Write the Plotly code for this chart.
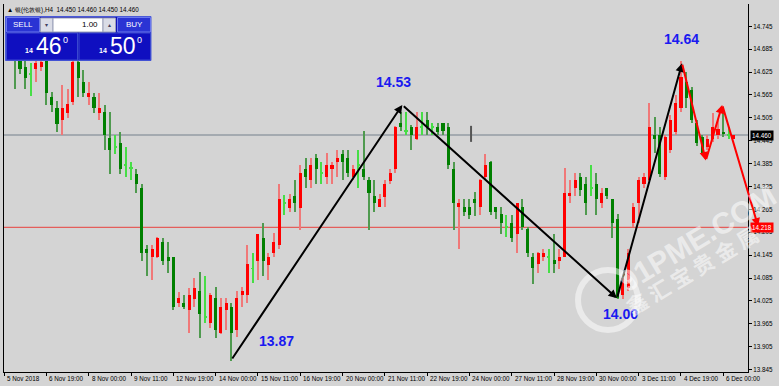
import plotly.graph_objects as go

# ---------------- data ----------------
bar_index = list(range(1, 139))
opens = [14.710, 14.700, 14.675, 14.639, 14.621, 14.632, 14.639, 14.670, 14.560,
         14.531, 14.499, 14.519, 14.547, 14.652, 14.600, 14.559, 14.560, 14.519, 14.521,
         14.451, 14.429, 14.440, 14.381, 14.373, 14.359, 14.320, 14.160, 14.139, 14.139,
         14.180, 14.139, 14.139, 14.019, 14.020, 14.001, 14.029, 14.051, 13.982, 13.966,
         14.032, 13.940, 14.001, 14.010, 13.950, 14.040, 14.040, 14.110, 14.130, 14.189,
         14.119, 14.150, 14.172, 14.281, 14.269, 14.300, 14.269, 14.370, 14.342, 14.401,
         14.361, 14.349, 14.370, 14.390, 14.410, 14.401, 14.349, 14.381, 14.370, 14.342,
         14.300, 14.272, 14.298, 14.340, 14.370, 14.491, 14.471, 14.480, 14.449, 14.480,
         14.499, 14.480, 14.480, 14.491, 14.480, 14.370, 14.270, 14.270, 14.270, 14.291,
         14.270, 14.349, 14.390, 14.270, 14.253, 14.220, 14.230, 14.200, 14.270, 14.213,
         14.139, 14.122, 14.139, 14.141, 14.132, 14.130, 14.141, 14.300, 14.320, 14.351,
         14.331, 14.320, 14.331, 14.281, 14.320, 14.291, 14.241, 14.040, 14.058, 14.230,
         14.281, 14.331, 14.342, 14.460, 14.460, 14.349, 14.421, 14.469, 14.530, 14.600,
         14.578, 14.491, 14.456, 14.429, 14.449, 14.460, 14.469, 14.460, 14.450]
highs = [14.720, 14.720, 14.700, 14.660, 14.650, 14.660, 14.660, 14.680, 14.574,
         14.549, 14.591, 14.580, 14.660, 14.660, 14.630, 14.600, 14.569, 14.569, 14.540,
         14.521, 14.460, 14.469, 14.429, 14.390, 14.370, 14.332, 14.172, 14.172, 14.192,
         14.189, 14.180, 14.139, 14.049, 14.040, 14.058, 14.084, 14.102, 14.091, 14.045,
         14.061, 14.032, 14.032, 14.020, 14.052, 14.061, 14.172, 14.150, 14.200, 14.230,
         14.150, 14.202, 14.331, 14.303, 14.305, 14.342, 14.381, 14.401, 14.401, 14.410,
         14.390, 14.412, 14.390, 14.422, 14.422, 14.422, 14.381, 14.422, 14.471, 14.350,
         14.342, 14.305, 14.342, 14.370, 14.484, 14.521, 14.521, 14.485, 14.521, 14.521,
         14.521, 14.491, 14.491, 14.491, 14.491, 14.390, 14.291, 14.291, 14.291, 14.311,
         14.345, 14.410, 14.392, 14.272, 14.270, 14.250, 14.250, 14.283, 14.291, 14.218,
         14.150, 14.152, 14.160, 14.160, 14.200, 14.160, 14.373, 14.342, 14.361, 14.361,
         14.351, 14.381, 14.361, 14.320, 14.322, 14.293, 14.253, 14.093, 14.160, 14.281,
         14.351, 14.361, 14.543, 14.508, 14.480, 14.460, 14.512, 14.565, 14.655, 14.626,
         14.587, 14.499, 14.460, 14.460, 14.519, 14.499, 14.534, 14.480, 14.460]
lows = [14.670, 14.580, 14.619, 14.580, 14.561, 14.600, 14.629, 14.540, 14.521,
        14.469, 14.460, 14.504, 14.539, 14.559, 14.559, 14.539, 14.519, 14.499, 14.421,
        14.359, 14.410, 14.358, 14.349, 14.342, 14.309, 14.130, 14.090, 14.081, 14.137,
        14.119, 14.099, 14.001, 14.010, 14.003, 13.940, 14.010, 13.929, 13.968, 13.953,
        13.929, 13.938, 13.950, 13.868, 13.931, 14.010, 14.019, 14.071, 14.080, 14.090,
        14.081, 14.139, 14.160, 14.250, 14.259, 14.259, 14.211, 14.320, 14.320, 14.331,
        14.331, 14.331, 14.331, 14.349, 14.342, 14.349, 14.342, 14.320, 14.342, 14.211,
        14.259, 14.270, 14.270, 14.331, 14.361, 14.471, 14.460, 14.421, 14.448, 14.460,
        14.460, 14.460, 14.460, 14.460, 14.370, 14.211, 14.160, 14.248, 14.241, 14.248,
        14.250, 14.342, 14.250, 14.241, 14.200, 14.193, 14.180, 14.150, 14.211, 14.139,
        14.069, 14.097, 14.130, 14.099, 14.099, 14.108, 14.139, 14.281, 14.300, 14.300,
        14.250, 14.300, 14.250, 14.269, 14.291, 14.189, 14.030, 14.029, 14.052, 14.218,
        14.228, 14.320, 14.340, 14.412, 14.351, 14.342, 14.412, 14.460, 14.521, 14.530,
        14.491, 14.431, 14.408, 14.421, 14.442, 14.449, 14.456, 14.449, 14.450]
closes = [14.690, 14.670, 14.632, 14.610, 14.621, 14.650, 14.651, 14.569, 14.539,
          14.489, 14.532, 14.541, 14.652, 14.609, 14.569, 14.571, 14.530, 14.530, 14.460,
          14.421, 14.429, 14.370, 14.381, 14.373, 14.331, 14.150, 14.150, 14.160, 14.189,
          14.130, 14.130, 14.010, 14.032, 14.010, 14.040, 14.060, 13.991, 13.982, 14.040,
          13.950, 14.010, 14.020, 13.940, 14.032, 14.052, 14.122, 14.110, 14.200, 14.130,
          14.139, 14.180, 14.291, 14.281, 14.291, 14.281, 14.361, 14.349, 14.381, 14.370,
          14.361, 14.381, 14.381, 14.401, 14.390, 14.361, 14.370, 14.381, 14.349, 14.309,
          14.281, 14.291, 14.331, 14.361, 14.480, 14.480, 14.471, 14.460, 14.480, 14.480,
          14.480, 14.480, 14.469, 14.471, 14.381, 14.281, 14.281, 14.259, 14.250, 14.281,
          14.342, 14.381, 14.259, 14.259, 14.230, 14.220, 14.189, 14.281, 14.218, 14.150,
          14.110, 14.150, 14.150, 14.141, 14.122, 14.139, 14.309, 14.309, 14.342, 14.316,
          14.281, 14.320, 14.291, 14.309, 14.300, 14.230, 14.032, 14.084, 14.150, 14.270,
          14.342, 14.351, 14.480, 14.449, 14.359, 14.456, 14.499, 14.543, 14.611, 14.556,
          14.499, 14.440, 14.412, 14.449, 14.480, 14.477, 14.463, 14.460, 14.460]

x_tick_index = [0, 8, 16, 24, 32, 40, 48, 56, 64, 72, 80, 88, 96, 104, 112, 120, 128, 136]
x_tick_labels = ["5 Nov 2018", "6 Nov 19:00", "8 Nov 00:00", "9 Nov 11:00", "12 Nov 19:00",
                 "14 Nov 00:00", "15 Nov 11:00", "16 Nov 19:00", "20 Nov 00:00", "21 Nov 11:00",
                 "22 Nov 19:00", "24 Nov 00:00", "27 Nov 11:00", "28 Nov 19:00", "30 Nov 00:00",
                 "3 Dec 11:00", "4 Dec 19:00", "6 Dec 00:00"]
price_ticks = [13.845, 13.905, 13.965, 14.025, 14.085, 14.145, 14.205, 14.265,
               14.325, 14.385, 14.445, 14.505, 14.565, 14.625, 14.685, 14.745]

bid_price = 14.460
ask_line_price = 14.218

black_path_x = [42.96, 75.3, 115.9, 128.2]
black_path_y = [13.870, 14.539, 14.032, 14.648]
red_path_x = [128.2, 132.7, 135.8, 142.6]
red_path_y = [14.648, 14.393, 14.539, 14.220]

label_text = ["13.87", "14.53", "14.00", "14.64"]
label_x = [51.5, 73.7, 116.6, 128.1]
label_y = [13.920, 14.600, 13.990, 14.712]

cursor_x = [88.3, 88.3]
cursor_y = [14.442, 14.484]

# ---------------- style ----------------
W, H = 779, 386
PL, PR, PT, PB = 4, 748, 4, 372
BG = "#D4D4D4"
UP, DOWN, DOJI = "#FF0000", "#008000", "#46DE46"
UP_WICK, DOWN_WICK = "#F07878", "#4F9A4F"
FONT = "Liberation Sans"


def fx(px):
    return (px - PL) / (PR - PL)


def fy(py):
    return (PB - py) / (PB - PT)


body_base, body_len, body_col, wick_col = [], [], [], []
for o, c in zip(opens, closes):
    if abs(c - o) < 1e-9:
        body_base.append(o - 0.0013)
        body_len.append(0.0026)
        body_col.append(DOJI)
        wick_col.append(DOJI)
    else:
        body_base.append(min(o, c))
        body_len.append(abs(c - o))
        body_col.append(UP if c > o else DOWN)
        wick_col.append(UP_WICK if c > o else DOWN_WICK)

fig = go.Figure()
fig.add_trace(go.Bar(x=bar_index, base=lows, y=[h - l for h, l in zip(highs, lows)],
                     width=0.2, marker=dict(color=wick_col, line=dict(width=0)),
                     hoverinfo="skip", showlegend=False))
fig.add_trace(go.Bar(x=bar_index, base=body_base, y=body_len,
                     width=0.58, marker=dict(color=body_col, line=dict(width=0)),
                     hoverinfo="skip", showlegend=False))
fig.add_trace(go.Scatter(x=cursor_x, y=cursor_y, mode="lines",
                         line=dict(color="#555555", width=2),
                         hoverinfo="skip", showlegend=False))

x_range = [-0.02, (PR - 3.7) / 5.291]
y_range = [13.8386, 14.8035]

shapes = [
    dict(type="line", xref="paper", yref="y", x0=0, x1=1, y0=bid_price, y1=bid_price,
         line=dict(color="#A4AAB0", width=2), layer="below"),
    dict(type="line", xref="paper", yref="y", x0=0, x1=1, y0=ask_line_price, y1=ask_line_price,
         line=dict(color="#E8403C", width=1), layer="below"),
]


def rect(x0, y0, x1, y1, fill, line="rgba(0,0,0,0)", lw=1):
    shapes.append(dict(type="rect", xref="paper", yref="paper", x0=fx(x0), x1=fx(x1),
                       y0=fy(y1), y1=fy(y0), fillcolor=fill,
                       line=dict(color=line, width=lw), layer="above"))


# trade panel
rect(5.5, 16.5, 151, 60.5, "#1111B8", "#4A5AD8")
rect(6.5, 33, 77.5, 60, "#0F0FC0", "#3A48D0")
rect(79, 33, 150.5, 60, "#0F0FC0", "#3A48D0")
rect(6.5, 17.5, 39.5, 32, "#2A34D4", "#6A78EE")
rect(117.5, 17.5, 150.5, 32, "#2A34D4", "#6A78EE")
rect(40.5, 18, 53, 32, "#DADCE6", "#9AA0B8")
rect(53, 18, 103, 32, "#FFFFFF", "#9AA0B8")
rect(103, 18, 115.5, 32, "#DADCE6", "#9AA0B8")

# watermark ring
shapes.append(dict(type="circle", xref="paper", yref="paper",
                   x0=fx(578), x1=fx(638), y0=fy(330), y1=fy(270),
                   line=dict(color="rgba(255,255,255,0.5)", width=6), layer="above"))

annotations = []


def txt(px, py, s, size, color, xanchor="center", weight="normal", family=FONT, angle=0):
    annotations.append(dict(xref="paper", yref="paper", x=fx(px), y=fy(py), text=s,
                            showarrow=False, xanchor=xanchor, yanchor="middle",
                            textangle=angle,
                            font=dict(family=family, size=size, color=color, weight=weight)))


# zigzag arrows
for xs, ys, col in ((black_path_x, black_path_y, "#000000"), (red_path_x, red_path_y, "#FF0000")):
    for k in range(len(xs) - 1):
        annotations.append(dict(xref="x", yref="y", axref="x", ayref="y",
                                x=xs[k + 1], y=ys[k + 1], ax=xs[k], ay=ys[k], text="",
                                showarrow=True, arrowhead=2, arrowsize=0.85, arrowwidth=2,
                                arrowcolor=col, standoff=0, startstandoff=0))

for t, lx, ly in zip(label_text, label_x, label_y):
    annotations.append(dict(xref="x", yref="y", x=lx, y=ly, text=t, showarrow=False,
                            font=dict(family=FONT, size=14, color="#1A1AF0", weight="bold")))

# x tick labels (left aligned after tick)
for xi, lab in zip(x_tick_index, x_tick_labels):
    annotations.append(dict(xref="x", yref="paper", x=xi, y=0, yshift=-6, xshift=1,
                            text=lab, showarrow=False, xanchor="left", yanchor="middle",
                            font=dict(family=FONT, size=6.3, color="#000000")))

# price boxes on axis
annotations.append(dict(xref="paper", yref="y", x=1, y=bid_price, xanchor="left", xshift=2,
                        text="14.460", showarrow=False, bgcolor="#000000", borderpad=1,
                        font=dict(family=FONT, size=6.3, color="#FFFFFF")))
annotations.append(dict(xref="paper", yref="y", x=1, y=ask_line_price, xanchor="left", xshift=2,
                        text="14.218", showarrow=False, bgcolor="#FF0000", borderpad=1,
                        font=dict(family=FONT, size=6.3, color="#FFFFFF")))

# header text
txt(5, 10, "▲ 银(伦敦银),H4  14.450 14.460 14.450 14.460", 6.3, "#000000", xanchor="left")

# panel texts
txt(23, 25, "SELL", 8, "#FFFFFF")
txt(134, 25, "BUY", 8, "#FFFFFF")
txt(46.8, 25, "▾", 6, "#404060")
txt(109.3, 25, "▴", 6, "#404060")
txt(100, 25, "1.00", 8, "#000000", xanchor="right")
txt(29.5, 50, "14", 7, "#FFFFFF", weight="bold")
txt(49, 46, "46", 23, "#FFFFFF")
txt(65.5, 40, "0", 9, "#FFFFFF")
txt(102.5, 50, "14", 7, "#FFFFFF", weight="bold")
txt(122.5, 46, "50", 23, "#FFFFFF")
txt(139.5, 40, "0", 9, "#FFFFFF")

# watermark
txt(697, 238, "91PME.COM", 30, "rgba(255,255,255,0.55)", weight="bold", angle=-31)
txt(692, 270, "鑫 汇 宝 贵 金 属", 21, "rgba(255,255,255,0.55)",
    family="Noto Sans CJK SC", weight="bold", angle=-31)

fig.update_layout(
    width=W, height=H,
    margin=dict(l=PL, r=W - PR, t=PT, b=H - PB),
    paper_bgcolor=BG, plot_bgcolor=BG,
    barmode="overlay", bargap=0,
    showlegend=False,
    shapes=shapes, annotations=annotations,
    font=dict(family=FONT, size=6.3, color="#000000"),
    xaxis=dict(range=x_range, showgrid=False, zeroline=False, showline=True,
               linecolor="#000000", linewidth=1, mirror=False,
               tickvals=x_tick_index, ticks="outside", ticklen=3, tickcolor="#000000",
               showticklabels=False, fixedrange=True),
    yaxis=dict(range=y_range, side="right", showgrid=False, zeroline=False, showline=True,
               linecolor="#000000", linewidth=1, mirror=True,
               tickvals=price_ticks, ticktext=["%.3f" % v for v in price_ticks],
               ticks="outside", ticklen=3, tickcolor="#000000",
               tickfont=dict(family=FONT, size=6.3, color="#000000"), fixedrange=True),
)

fig.write_html("out.html", config={"displayModeBar": False},
               post_script="document.body.style.margin='0';document.body.style.overflow='hidden';")
